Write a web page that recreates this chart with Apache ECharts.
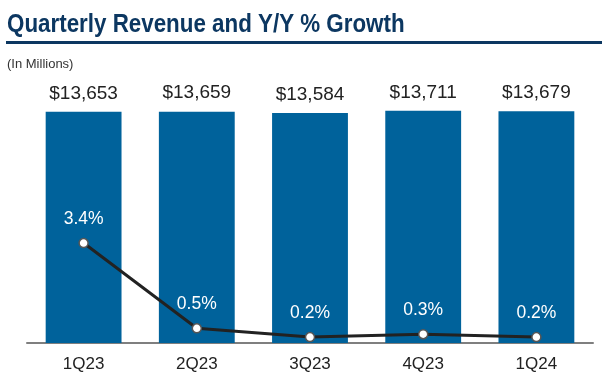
<!DOCTYPE html>
<html><head><meta charset="utf-8">
<script src="https://cdn.jsdelivr.net/npm/echarts@6/dist/echarts.min.js"></script>
<style>html,body{margin:0;padding:0;background:#fff}#c{width:602px;height:386px}</style>
</head><body><div id="c"></div>
<script>
var categories = ['1Q23','2Q23','3Q23','4Q23','1Q24'];
var revenue = [13653, 13659, 13584, 13711, 13679];
var growth = [3.4, 0.5, 0.2, 0.3, 0.2];
var titleText = 'Quarterly Revenue and Y/Y % Growth';
var subtitleText = '(In Millions)';

var chart = echarts.init(document.getElementById('c'), null, {renderer:'canvas'});
var font = '"Liberation Sans", Arial, sans-serif';
chart.setOption({
  animation:false,
  textStyle:{fontFamily:font},
  title:[{text:subtitleText, left:2, top:53, textStyle:{fontSize:13, fontWeight:'normal', color:'#333', fontFamily:font}}],
  graphic:[
    {type:'rect', shape:{x:6, y:41, width:596, height:3}, style:{fill:'#0c3761'}},
    {type:'text', x:7, y:12, scaleX:0.86, style:{text:titleText, font:'bold 26px "Liberation Sans", Arial, sans-serif', fill:'#0c3761', textVerticalAlign:'top'}}
  ],
  grid:{left:27, right:9, top:89, bottom:43},
  xAxis:{type:'category', data:categories,
    axisLine:{lineStyle:{color:'#7f7f7f', width:2}}, axisTick:{show:false},
    axisLabel:{fontSize:17, color:'#222', margin:13, fontFamily:font}},
  yAxis:[{type:'value', min:0, max:15000, show:false, splitLine:{show:false}},
         {type:'value', min:0, max:8.64, show:false, splitLine:{show:false}}],
  series:[{type:'bar', data:revenue, barWidth:'67%', itemStyle:{color:'#00629b'},
      label:{show:true, position:'top', distance:9, fontSize:19, color:'#222', fontFamily:font,
        formatter:function(p){return '$'+p.value.toLocaleString('en-US');}}},
    {type:'line', yAxisIndex:1, data:growth, symbol:'circle', symbolSize:9,
      lineStyle:{color:'#222', width:3}, itemStyle:{color:'#fff', borderColor:'#555', borderWidth:1.5},
      label:{show:true, position:'top', distance:10, fontSize:17.5, color:'#fff', fontFamily:font,
        formatter:function(p){return p.value.toFixed(1)+'%';}}}]
});
</script></body></html>
